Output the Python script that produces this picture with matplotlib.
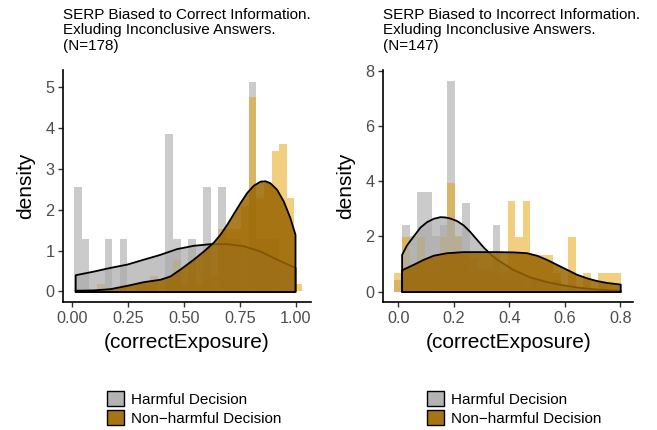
import matplotlib
matplotlib.use("Agg")
import matplotlib.pyplot as plt
import numpy as np
from matplotlib.patches import Patch
from matplotlib.colors import to_rgba
from matplotlib.legend_handler import HandlerTuple

plt.rcParams['font.family'] = ['Liberation Sans', 'DejaVu Sans']

titles = ["SERP Biased to Correct Information.\nExluding Inconclusive Answers.\n(N=178)",
          "SERP Biased to Incorrect Information.\nExluding Inconclusive Answers.\n(N=147)"]
groups = ["Harmful Decision", "Non\u2212harmful Decision"]
x_label = "(correctExposure)"
y_label = "density"

# histogram bins, 30 per panel (counts)
left_bin_start = 0.0104
left_bin_width = 0.0339
left_harm_counts = [2, 1, 0, 0, 1, 0, 1, 0, 0, 0, 0, 0, 3, 1, 0,
                    1, 0, 2, 0, 2, 1, 1, 0, 4, 1, 1, 1, 0, 0, 0]
left_safe_counts = [0, 0, 0, 1, 0, 0, 1, 0, 1, 1, 2, 0, 1, 4, 1,
                    2, 1, 2, 2, 8, 8, 8, 11, 25, 12, 14, 18, 19, 12, 1]

right_bin_start = -0.0138
right_bin_width = 0.02723
right_harm_counts = [1, 6, 5, 9, 9, 5, 6, 19, 5, 8, 3, 2, 2, 6, 1,
                     1, 1, 0, 1, 0, 0, 1, 0, 0, 0, 0, 0, 0, 0, 0]
right_safe_counts = [1, 3, 1, 3, 1, 1, 3, 6, 3, 2, 1, 1, 1, 1, 1,
                     5, 3, 5, 2, 2, 2, 1, 0, 3, 0, 1, 0, 1, 1, 1]

# density curves
left_harm_x = [0.015, 0.097, 0.171, 0.245, 0.319, 0.394, 0.468, 0.542, 0.617, 0.691,
               0.765, 0.840, 0.914, 0.996]
left_harm_y = [0.41, 0.50, 0.59, 0.67, 0.79, 0.91, 1.05, 1.13, 1.17, 1.17,
               1.12, 0.99, 0.79, 0.59]
left_safe_x = [0.015, 0.097, 0.171, 0.245, 0.319, 0.394, 0.438, 0.483, 0.542, 0.587,
               0.632, 0.661, 0.691, 0.721, 0.750, 0.780, 0.810, 0.840, 0.862, 0.884,
               0.914, 0.944, 0.973, 0.996]
left_safe_y = [0.03, 0.04, 0.07, 0.15, 0.24, 0.30, 0.38, 0.55, 0.79, 0.99,
               1.21, 1.40, 1.64, 1.91, 2.17, 2.42, 2.60, 2.70, 2.71, 2.66,
               2.50, 2.21, 1.81, 1.40]

right_harm_x = [0.012, 0.030, 0.054, 0.078, 0.102, 0.126, 0.150, 0.168, 0.186, 0.210,
                0.234, 0.258, 0.282, 0.306, 0.330, 0.354, 0.414, 0.474, 0.534, 0.594,
                0.654, 0.714, 0.800]
right_harm_y = [1.35, 1.70, 2.02, 2.34, 2.54, 2.66, 2.72, 2.71, 2.67, 2.58,
                2.42, 2.18, 1.90, 1.62, 1.38, 1.18, 0.80, 0.53, 0.36, 0.24,
                0.15, 0.09, 0.04]
right_safe_x = [0.012, 0.054, 0.090, 0.126, 0.174, 0.234, 0.294, 0.354, 0.414, 0.462,
                0.498, 0.534, 0.570, 0.606, 0.642, 0.678, 0.714, 0.750, 0.800]
right_safe_y = [0.79, 0.99, 1.17, 1.32, 1.41, 1.45, 1.45, 1.45, 1.44, 1.41,
                1.32, 1.17, 0.99, 0.81, 0.63, 0.50, 0.40, 0.33, 0.27]

bar_cols = ['#999999', '#E69F00']
dens_cols = [to_rgba('#a9a9a9', 0.7), to_rgba('#9a6500', 0.85)]

W, H = 657, 430
fig = plt.figure(figsize=(W / 100, H / 100), dpi=100)

panels = [
    dict(rect=[63.3, 128.3, 247.4, 231.7], start=left_bin_start, width=left_bin_width,
         counts=[left_harm_counts, left_safe_counts],
         curves=[(left_harm_x, left_harm_y), (left_safe_x, left_safe_y)],
         xlim=(-0.038, 1.066), ylim=(-0.25, 5.42),
         xticks=[0, 0.25, 0.5, 0.75, 1.0], xfmt="{:.2f}", yticks=[0, 1, 2, 3, 4, 5]),
    dict(rect=[383.3, 128.3, 249.7, 231.7], start=right_bin_start, width=right_bin_width,
         counts=[right_harm_counts, right_safe_counts],
         curves=[(right_harm_x, right_harm_y), (right_safe_x, right_safe_y)],
         xlim=(-0.054, 0.846), ylim=(-0.37, 8.05),
         xticks=[0, 0.2, 0.4, 0.6, 0.8], xfmt="{:.1f}", yticks=[0, 2, 4, 6, 8]),
]

for i, p in enumerate(panels):
    x0, y0, w, h = p['rect']
    ax = fig.add_axes([x0 / W, y0 / H, w / W, h / H])

    for counts, col in zip(p['counts'], bar_cols):
        counts = np.array(counts, dtype=float)
        edges = p['start'] + p['width'] * np.arange(len(counts))
        heights = counts / (counts.sum() * p['width'])
        ax.bar(edges, heights, width=p['width'], align='edge', color=col,
               alpha=0.5, linewidth=0, zorder=1)

    for (cx, cy), col in zip(p['curves'], dens_cols):
        ax.fill_between(cx, cy, 0, facecolor=col, edgecolor='black',
                        linewidth=1.3, zorder=2)

    ax.set_xlim(*p['xlim'])
    ax.set_ylim(*p['ylim'])
    ax.set_xticks(p['xticks'])
    ax.set_xticklabels([p['xfmt'].format(t) for t in p['xticks']])
    ax.set_yticks(p['yticks'])
    for s in ['top', 'right']:
        ax.spines[s].set_visible(False)
    for s in ['left', 'bottom']:
        ax.spines[s].set_linewidth(1.2)
    ax.tick_params(length=3.3, width=1.0, color='#333333', labelcolor='#4d4d4d',
                   labelsize=11.7, pad=3.2)
    ax.set_xlabel(x_label, fontsize=15, labelpad=5)
    ax.set_ylabel(y_label, fontsize=15, labelpad=7)

    fig.text(x0 / W, 1 - 8 / H, titles[i], ha='left', va='top', fontsize=11,
             linespacing=1.12)

    handles = []
    for bc, dc in zip(bar_cols, dens_cols):
        handles.append((Patch(facecolor=bc, alpha=0.5, linewidth=0),
                        Patch(facecolor=dc, edgecolor='black', linewidth=1.0)))
    ax.legend(handles, groups, handler_map={tuple: HandlerTuple(ndivide=1, pad=0)},
              loc='upper left', bbox_to_anchor=((x0 + 43.4) / W, 1 - 391 / H),
              bbox_transform=fig.transFigure, frameon=False, borderpad=0,
              borderaxespad=0, handlelength=1.15, handleheight=1.15,
              handletextpad=0.45, labelspacing=0.22, fontsize=11)

fig.savefig("out.png", dpi=100)
